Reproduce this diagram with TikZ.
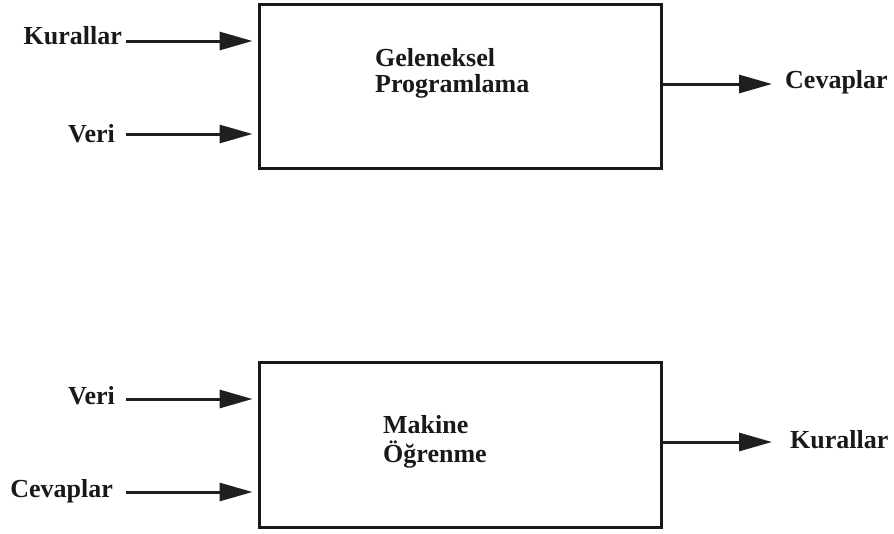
\documentclass[tikz,border=0pt]{standalone}
\usepackage{fontspec}
\setmainfont{Liberation Serif}
\usetikzlibrary{arrows.meta,calc}

\tikzset{
  lbl/.style={font=\fontsize{26}{30}\selectfont\bfseries, inner sep=0pt, text=black!90},
  procbox/.style={draw=black!90, line width=3pt, minimum width=402pt, inner sep=0pt},
  arr/.style={line width=3pt, draw=black!88,
    -{Triangle[length=33pt,width=18pt,fill=black!88]}},
}

\begin{document}
\begin{tikzpicture}[x=1pt,y=-1pt]
  \useasboundingbox (0,0) rectangle (894,533);

  % ---- traditional programming ----
  \node[procbox, minimum height=164pt] (box1) at (460,86) {};
  \node[lbl, anchor=base west] (t1a) at (375,66.7) {Geleneksel};
  \node[lbl, anchor=base west] (t1b) at (375,92) {Programlama};

  \node[lbl, anchor=base east] (kurIn) at (122,44.5) {Kurallar};
  \node[lbl, anchor=base east] (veriIn) at (115,142) {Veri};
  \node[lbl, anchor=base west] (cevOut) at (785,88) {Cevaplar};

  \coordinate (s1) at (126,41);
  \coordinate (s2) at (126,134);
  \coordinate (e1) at (772,84);
  \draw[arr, shorten >=5pt] (s1) -- (s1 -| box1.west);
  \draw[arr, shorten >=5pt] (s2) -- (s2 -| box1.west);
  \draw[arr] (e1 -| box1.east) -- (e1);

  % ---- machine learning ----
  \node[procbox, minimum height=165pt] (box2) at (460,444.5) {};
  \node[lbl, anchor=base west] (t2a) at (383,433) {Makine};
  \node[lbl, anchor=base west] (t2b) at (383,462) {Öğrenme};

  \node[lbl, anchor=base east] (veriIn2) at (115,404) {Veri};
  \node[lbl, anchor=base east] (cevIn2) at (113,497) {Cevaplar};
  \node[lbl, anchor=base west] (kurOut2) at (790,448) {Kurallar};

  \coordinate (s3) at (126,399);
  \coordinate (s4) at (126,492);
  \coordinate (e2) at (772,442);
  \draw[arr, shorten >=5pt] (s3) -- (s3 -| box2.west);
  \draw[arr, shorten >=5pt] (s4) -- (s4 -| box2.west);
  \draw[arr] (e2 -| box2.east) -- (e2);
\end{tikzpicture}
\end{document}
